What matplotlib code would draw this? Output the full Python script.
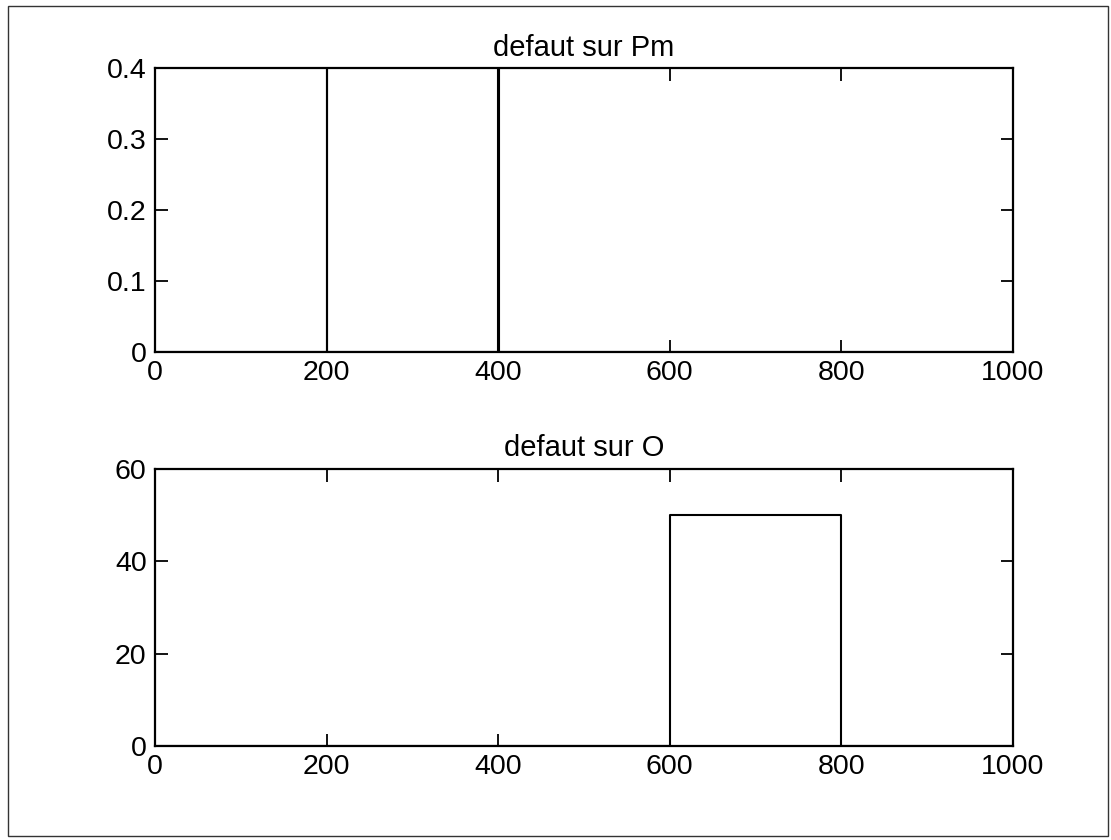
import matplotlib.pyplot as plt
from matplotlib.patches import Rectangle

plt.rcParams['font.family'] = ['Liberation Sans', 'DejaVu Sans']

# defaut sur Pm : two short pulses
t_pm = [0, 200, 200, 201, 201, 400, 400, 401, 401, 1000]
pm = [0, 0, 0.4, 0.4, 0, 0, 0.4, 0.4, 0, 0]

# defaut sur O : one rectangular pulse
t_o = [0, 600, 600, 800, 800, 1000]
o = [0, 0, 50, 50, 0, 0]

W, H = 1111, 840
fig = plt.figure(figsize=(W / 100, H / 100), dpi=100)

ax1 = fig.add_axes([155 / W, 1 - 352 / H, (1013 - 155) / W, (352 - 68) / H])
ax2 = fig.add_axes([155 / W, 1 - 746 / H, (1013 - 155) / W, (746 - 469) / H])

ax1.plot(t_pm, pm, color='black', lw=1.5)
ax1.set(xlim=(0, 1000), ylim=(0, 0.4))
ax1.set_yticks([0, 0.1, 0.2, 0.3, 0.4])
ax1.set_yticklabels(['0', '0.1', '0.2', '0.3', '0.4'])
ax1.set_title('defaut sur Pm', fontsize=21, pad=9)

ax2.plot(t_o, o, color='black', lw=1.5)
ax2.set(xlim=(0, 1000), ylim=(0, 60))
ax2.set_yticks([0, 20, 40, 60])
ax2.set_title('defaut sur O', fontsize=21, pad=9)

for ax in (ax1, ax2):
    ax.set_xticks([0, 200, 400, 600, 800, 1000])
    ax.tick_params(direction='in', top=True, right=True, length=9, width=1.3,
                   labelsize=20.5, pad=6, color='black')
    for s in ax.spines.values():
        s.set_linewidth(1.6)

# outer frame of the scanned page
fig.patches.append(Rectangle((8 / W, 4 / H), 1100 / W, 830 / H, transform=fig.transFigure,
                             fill=False, edgecolor='#333333', lw=1))

fig.savefig('out.png', dpi=100)
